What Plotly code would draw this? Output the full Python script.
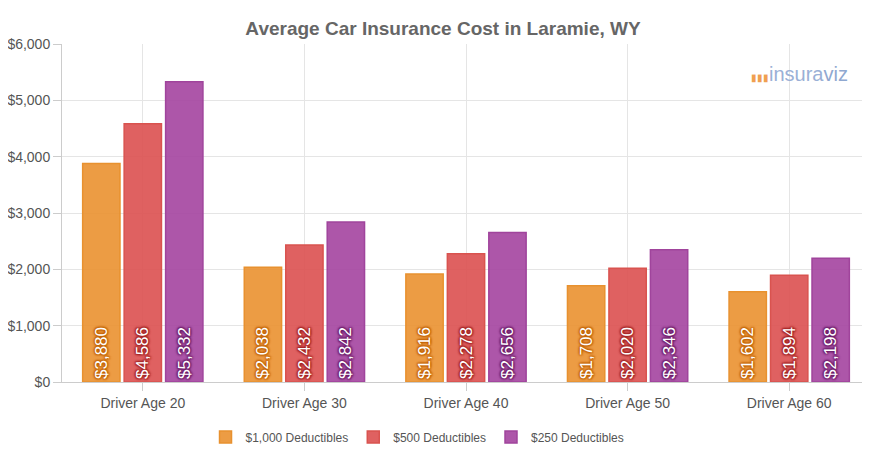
import plotly.graph_objects as go

ages = ['Driver Age 20', 'Driver Age 30', 'Driver Age 40', 'Driver Age 50', 'Driver Age 60']
ded_1000 = [3880, 2038, 1916, 1708, 1602]
ded_500 = [4586, 2432, 2278, 2020, 1894]
ded_250 = [5332, 2842, 2656, 2346, 2198]

series = [
    ('$1,000 Deductibles', ded_1000, 'rgba(234,145,48,0.9)', '#E8912F', '#c06000'),
    ('$500 Deductibles', ded_500, 'rgba(220,80,80,0.9)', '#D9534F', '#a02020'),
    ('$250 Deductibles', ded_250, 'rgba(164,68,160,0.9)', '#A0449C', '#6a1a66'),
]

fig = go.Figure()
for name, vals, fill, line, dark in series:
    sh = ', '.join('{}px {}px 2px {}'.format(a, b, dark) for a, b in [(1, 1), (-1, -1), (1, -1), (-1, 1)])
    fig.add_trace(go.Bar(
        x=ages, y=vals, name=name,
        marker=dict(color=fill, line=dict(color=line, width=1.5)),
        text=['${:,}'.format(v) for v in vals],
        textposition='inside', insidetextanchor='start', textangle=-90,
        textfont=dict(color='white', size=17, family='Arial', shadow=sh),
        hoverinfo='skip',
    ))

fig.add_annotation(x=0.975, y=0.95, xref='paper', yref='paper', xanchor='right',
                   text='<span style="color:#f0a050;font-size:10px">▮▮▮</span>insura<span style="color:#8fa8d0">viz</span>',
                   showarrow=False, font=dict(size=20, color='#9ab0d6', family='Arial'))

fig.update_layout(
    title=dict(text='<b>Average Car Insurance Cost in Laramie, WY</b>', x=0.5, y=0.97,
               font=dict(size=19, color='#666', family='Arial')),
    width=870, height=450,
    margin=dict(l=54, r=8, t=36, b=76, autoexpand=False),
    paper_bgcolor='white', plot_bgcolor='white',
    barmode='group', bargap=0.23, bargroupgap=0.1,
    showlegend=True,
    legend=dict(orientation='h', x=0.44, xanchor='center', y=-0.12, yanchor='top',
                font=dict(size=12, color='#555', family='Arial')),
    xaxis=dict(showgrid=True, gridcolor='#e5e5e5', showline=True, linecolor='#ccc',
               ticks='outside', tickcolor='#ccc', ticklen=8,
               tickfont=dict(size=14, color='#555', family='Arial')),
    yaxis=dict(range=[0, 6000], dtick=1000, tickprefix='$', tickformat=',',
               gridcolor='#e5e5e5', showline=True, linecolor='#ccc',
               ticks='outside', tickcolor='#ccc', ticklen=8,
               tickfont=dict(size=14, color='#555', family='Arial')),
)
fig.write_html('out.html')
